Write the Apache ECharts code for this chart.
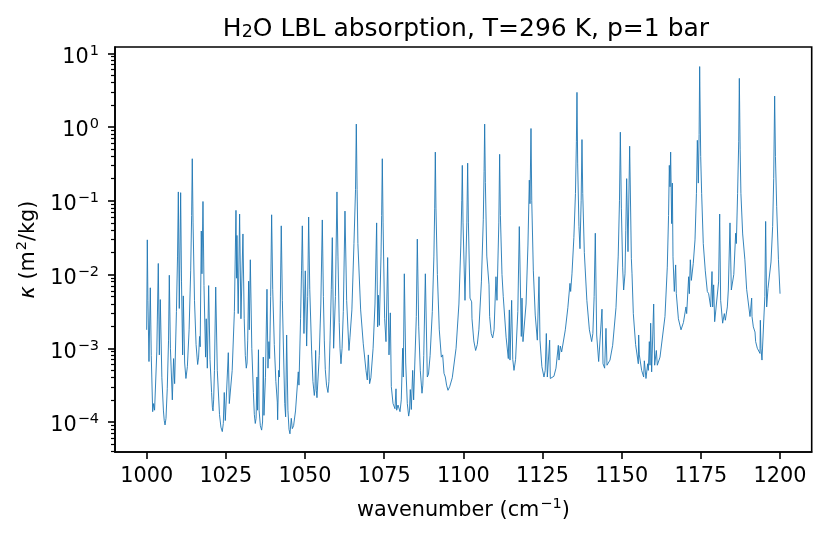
<!DOCTYPE html>
<html>
<head>
<meta charset="utf-8">
<title>H2O LBL absorption</title>
<script src="https://cdn.jsdelivr.net/npm/echarts@6/dist/echarts.min.js"></script>
<style>
html, body { margin: 0; padding: 0; background: #fff; }
#chart { width: 827px; height: 537px; }
</style>
</head>
<body>
<div id="chart"></div>
<script>
// wavenumber (cm-1) and log10 of kappa (m2/kg)
var wavenumber = [
    1000.0, 1000.2, 1000.4, 1000.73, 1001.15, 1001.45, 1001.9, 1002.2, 1002.5, 1003.2,
    1003.67, 1004.0, 1004.3, 1004.8, 1005.3, 1005.55, 1005.8, 1006.1, 1006.5, 1006.9,
    1007.15, 1007.5, 1008.1, 1008.5, 1008.83, 1009.4, 1009.75, 1010.0, 1010.3, 1010.73,
    1011.0, 1011.36, 1011.57, 1012.0, 1012.4, 1012.85, 1013.4, 1013.9, 1014.2, 1014.4,
    1014.65, 1015.1, 1015.6, 1016.1, 1016.4, 1016.7, 1016.9, 1017.25, 1017.46, 1017.78,
    1018.1, 1018.6, 1018.8, 1019.15, 1019.57, 1020.0, 1020.5, 1020.75, 1020.95, 1021.15,
    1021.4, 1021.8, 1022.3, 1023.0, 1023.45, 1023.88, 1024.2, 1024.5, 1024.83, 1025.78,
    1026.1, 1027.0, 1027.7, 1028.2, 1028.4, 1028.5, 1028.9, 1029.35, 1029.77, 1030.4,
    1030.8, 1031.15, 1031.46, 1031.7, 1031.9, 1032.2, 1032.4, 1032.73, 1033.2, 1033.7,
    1034.0, 1034.3, 1034.55, 1034.83, 1035.0, 1035.3, 1035.5, 1035.9, 1036.3, 1036.6,
    1036.83, 1037.04, 1037.5, 1037.99, 1038.3, 1038.6, 1038.83, 1039.15, 1039.46, 1039.8,
    1040.3, 1040.8, 1041.25, 1041.36, 1041.68, 1041.9, 1042.2, 1042.5, 1042.85, 1043.3,
    1043.6, 1043.88, 1044.2, 1044.6, 1044.95, 1045.25, 1045.67, 1045.99, 1046.4, 1047.0,
    1047.88, 1048.09, 1048.6, 1048.9, 1049.15, 1049.67, 1050.09, 1050.52, 1050.85, 1051.15,
    1051.5, 1052.1, 1052.5, 1052.94, 1053.15, 1053.36, 1053.57, 1053.78, 1054.5, 1055.0,
    1055.46, 1055.8, 1056.1, 1056.41, 1056.8, 1057.25, 1057.55, 1057.9, 1058.3, 1058.62,
    1059.04, 1059.6, 1060.09, 1060.4, 1060.8, 1061.05, 1061.36, 1061.7, 1062.1, 1062.62,
    1063.15, 1063.46, 1063.88, 1064.2, 1064.8, 1065.46, 1065.95, 1066.2, 1066.45, 1066.7,
    1067.57, 1068.4, 1069.25, 1069.67, 1069.99, 1070.4, 1070.8, 1071.5, 1072.1, 1072.62,
    1072.94, 1073.15, 1073.46, 1074.0, 1074.2, 1074.41, 1074.65, 1075.15, 1075.57, 1076.1,
    1076.52, 1076.94, 1077.25, 1077.8, 1078.41, 1078.73, 1078.94, 1079.36, 1080.0, 1080.4,
    1080.83, 1081.04, 1081.36, 1081.8, 1082.3, 1082.73, 1083.0, 1083.25, 1083.57, 1084.0,
    1084.3, 1085.15, 1085.46, 1085.9, 1086.4, 1086.94, 1087.2, 1087.5, 1088.0, 1088.62,
    1089.0, 1089.5, 1090.2, 1090.7, 1090.95, 1091.15, 1091.35, 1091.8, 1092.4, 1093.05,
    1093.47, 1093.89, 1094.3, 1094.7, 1095.15, 1095.7, 1096.5, 1097.7, 1098.6, 1099.2,
    1099.5, 1099.67, 1099.9, 1100.52, 1101.1, 1101.36, 1101.6, 1102.1, 1102.62, 1102.73,
    1103.3, 1103.88, 1104.4, 1104.9, 1105.7, 1106.3, 1106.55, 1106.73, 1106.95, 1107.4,
    1108.1, 1108.3, 1108.8, 1109.26, 1109.7, 1110.3, 1110.62, 1111.2, 1111.46, 1111.7,
    1112.2, 1112.6, 1113.5, 1114.2, 1114.52, 1114.73, 1115.25, 1115.6, 1115.99, 1116.5,
    1117.2, 1117.67, 1118.3, 1118.52, 1118.83, 1119.8, 1120.4, 1120.83, 1121.04, 1121.36,
    1121.6, 1122.1, 1122.7, 1123.36, 1123.89, 1124.2, 1124.8, 1125.46, 1125.85, 1126.2,
    1126.52, 1127.25, 1127.46, 1127.99, 1128.6, 1129.25, 1129.99, 1130.2, 1130.62, 1131.04,
    1132.2, 1133.0, 1133.67, 1133.88, 1134.3, 1134.9, 1135.4, 1135.7, 1135.88, 1136.1,
    1136.5, 1136.83, 1137.2, 1137.46, 1137.7, 1138.2, 1139.0, 1139.8, 1140.52, 1140.9,
    1141.3, 1141.67, 1142.1, 1142.73, 1143.78, 1144.1, 1144.62, 1145.04, 1145.36, 1146.3,
    1147.15, 1148.2, 1148.9, 1149.3, 1149.57, 1149.9, 1150.3, 1150.62, 1151.04, 1151.3,
    1151.57, 1151.99, 1152.52, 1153.05, 1153.26, 1153.67, 1154.4, 1155.25, 1155.36, 1155.57,
    1156.3, 1156.94, 1157.15, 1157.67, 1158.2, 1158.41, 1158.73, 1158.94, 1159.15, 1159.46,
    1160.1, 1160.41, 1160.94, 1161.25, 1162.1, 1163.67, 1164.4, 1164.8, 1165.04, 1165.25,
    1165.46, 1165.78, 1165.99, 1166.2, 1166.62, 1167.04, 1167.25, 1167.9, 1168.73, 1169.5,
    1170.3, 1170.52, 1171.15, 1171.36, 1171.67, 1171.99, 1172.6, 1173.15, 1173.6, 1173.89,
    1174.2, 1174.45, 1174.62, 1174.95, 1175.25, 1175.76, 1176.4, 1177.04, 1177.46, 1178.09,
    1178.52, 1178.73, 1179.04, 1179.36, 1179.78, 1180.6, 1180.94, 1181.25, 1181.88, 1182.41,
    1182.73, 1183.36, 1183.67, 1184.2, 1184.62, 1185.4, 1185.99, 1186.2, 1186.6, 1186.95,
    1187.15, 1187.4, 1187.65, 1188.2, 1188.9, 1189.46, 1190.52, 1191.04, 1191.15, 1191.57,
    1192.1, 1192.3, 1192.83, 1193.67, 1193.78, 1193.99, 1194.3, 1194.62, 1195.2, 1195.46,
    1195.78, 1196.2, 1196.62, 1197.15, 1197.67, 1198.0, 1198.3, 1198.55, 1198.94, 1199.5,
    1200.0
];

var log10Kappa = [
    -2.75, -1.53, -2.35, -3.18, -2.18, -3.1, -3.86, -3.75, -3.84, -3.05,
    -1.85, -3.09, -2.34, -3.4, -3.85, -3.98, -4.04, -3.95, -3.55, -2.9,
    -2.01, -3.0, -3.7, -3.14, -3.48, -2.5, -1.75, -0.88, -2.46, -0.89,
    -2.1, -3.09, -2.29, -3.2, -3.41, -3.25, -2.75, -1.95, -1.2, -0.43,
    -1.3, -2.35, -2.95, -3.22, -3.12, -2.84, -2.98, -1.41, -1.99, -1.01,
    -2.15, -3.12, -2.6, -3.27, -2.15, -3.15, -3.6, -3.8, -3.85, -3.7,
    -3.3, -2.17, -3.3, -3.9, -4.07, -4.13, -4.02, -3.6, -3.98, -3.06,
    -3.75, -3.3, -2.5, -1.13, -2.05, -1.47, -2.53, -1.18, -2.6, -1.45,
    -2.6, -3.1, -3.27, -3.2, -2.9, -2.09, -2.75, -1.8, -3.0, -3.6,
    -3.9, -4.02, -3.95, -3.39, -3.84, -3.02, -3.84, -4.05, -4.11, -4.0,
    -3.12, -3.91, -3.4, -2.2, -3.27, -2.91, -3.14, -2.3, -1.19, -2.2,
    -2.95, -3.45, -3.73, -3.97, -3.3, -3.39, -2.4, -1.34, -2.35, -3.2,
    -3.75, -3.93, -2.82, -3.84, -4.1, -4.16, -3.95, -4.09, -4.05, -3.85,
    -3.32, -3.5, -2.6, -1.95, -1.34, -2.8, -1.95, -2.97, -2.3, -1.22,
    -2.2, -3.05, -3.45, -3.64, -3.55, -3.03, -3.57, -3.67, -3.1, -2.4,
    -1.26, -2.3, -2.9, -3.29, -3.5, -3.6, -3.45, -2.9, -2.2, -1.5,
    -3.0, -2.3, -0.88, -1.75, -2.65, -3.0, -3.21, -3.0, -2.5, -1.14,
    -2.35, -2.37, -3.03, -2.85, -2.48, -1.58, -0.85, 0.04, -0.85, -1.58,
    -2.48, -2.94, -3.3, -3.43, -3.09, -3.48, -3.4, -3.0, -2.4, -1.3,
    -2.71, -2.28, -2.69, -1.75, -1.2, -0.43, -1.3, -2.6, -2.91, -1.77,
    -3.09, -2.52, -3.52, -3.75, -3.82, -3.55, -3.84, -3.77, -3.86, -3.7,
    -3.0, -3.39, -1.99, -3.2, -3.75, -3.92, -3.85, -3.56, -3.83, -3.3,
    -3.7, -2.57, -1.52, -2.7, -3.3, -3.61, -3.5, -3.1, -1.99, -3.39,
    -3.35, -3.1, -2.5, -1.75, -1.1, -0.34, -1.1, -2.0, -2.75, -3.12,
    -3.09, -3.34, -3.39, -3.5, -3.57, -3.52, -3.4, -3.0, -2.4, -1.6,
    -1.0, -0.52, -1.3, -2.35, -1.3, -0.49, -1.3, -2.32, -2.37, -2.6,
    -2.9, -3.03, -2.95, -2.75, -2.1, -1.25, -0.6, 0.04, -0.75, -1.75,
    -2.14, -2.57, -2.8, -2.86, -2.75, -2.03, -2.35, -1.3, -0.37, -1.2,
    -2.0, -2.3, -2.85, -3.14, -2.48, -3.16, -2.35, -3.15, -3.3, -3.15,
    -2.5, -1.35, -2.84, -2.32, -2.91, -2.4, -1.6, -0.72, -1.04, -0.02,
    -1.0, -1.95, -2.55, -2.89, -2.03, -2.89, -3.25, -3.39, -3.3, -2.8,
    -3.39, -2.89, -3.41, -3.41, -3.38, -3.27, -2.96, -3.16, -2.97, -3.05,
    -2.75, -2.45, -2.12, -2.23, -1.99, -1.5, -0.9, -0.2, 0.47, -0.5,
    -1.35, -1.65, -1.0, -0.17, -0.9, -1.7, -2.35, -2.75, -2.91, -2.8,
    -2.3, -1.44, -2.82, -3.18, -2.47, -3.21, -3.27, -2.73, -3.23, -3.16,
    -2.96, -2.45, -1.75, -1.0, -0.07, -1.1, -1.9, -2.21, -1.99, -1.4,
    -0.7, -1.69, -0.26, -1.78, -1.99, -2.53, -2.95, -3.21, -2.82, -3.09,
    -3.3, -3.39, -3.17, -3.41, -3.21, -3.3, -2.91, -3.23, -2.66, -3.32,
    -2.4, -3.23, -3.03, -3.23, -3.12, -2.57, -1.9, -1.2, -0.52, -0.81,
    -0.34, -1.31, -0.76, -1.76, -2.23, -1.87, -2.26, -2.6, -2.75, -2.65,
    -2.44, -2.53, -2.03, -2.26, -1.8, -2.08, -1.85, -1.53, -0.9, -0.18,
    -0.76, -0.1, 0.82, -0.4, -0.9, -1.58, -1.95, -2.23, -2.26, -2.44,
    -1.96, -2.44, -2.14, -2.64, -2.64, -2.1, -1.18, -2.35, -2.66, -2.53,
    -2.62, -2.44, -2.21, -1.3, -2.21, -2.0, -1.44, -1.58, -0.9, -0.2,
    0.66, -0.3, -0.9, -1.45, -1.8, -2.2, -2.57, -2.32, -2.57, -2.71,
    -2.78, -2.91, -3.0, -3.07, -2.62, -3.0, -3.16, -3.15, -2.3, -1.28,
    -2.44, -2.19, -2.19, -1.83, -1.35, -0.7, 0.42, -0.4, -1.08, -1.8,
    -2.26
];

var xTicks = [1000, 1025, 1050, 1075, 1100, 1125, 1150, 1175, 1200];
var yMajorTicks = [1e-4, 1e-3, 1e-2, 1e-1, 1, 10];
var yMinorTicks = [
    4e-5, 5e-5, 6e-5, 7e-5, 8e-5, 9e-5,
    2e-4, 3e-4, 4e-4, 5e-4, 6e-4, 7e-4, 8e-4, 9e-4,
    2e-3, 3e-3, 4e-3, 5e-3, 6e-3, 7e-3, 8e-3, 9e-3,
    2e-2, 3e-2, 4e-2, 5e-2, 6e-2, 7e-2, 8e-2, 9e-2,
    0.2, 0.3, 0.4, 0.5, 0.6, 0.7, 0.8, 0.9,
    2, 3, 4, 5, 6, 7, 8, 9
];

var FONT = 'DejaVu Sans';
var FS = 20.8;

function spectrumData() {
    var data = [];
    for (var i = 0; i < wavenumber.length; i++) {
        data.push([wavenumber[i], Math.pow(10, log10Kappa[i])]);
    }
    return data;
}

function powerLabel(v) {
    var e = Math.round(Math.log10(v));
    return '{b|10}{e|' + (e < 0 ? '\u2212' + (-e) : e) + '}';
}

var supRich = {
    b: { fontFamily: FONT, fontSize: FS, lineHeight: 20, color: '#000', padding: [8, 0, 0, 0] },
    e: { fontFamily: FONT, fontSize: 14.5, lineHeight: 14, color: '#000', verticalAlign: 'top', padding: [0, 0, 0, 1] }
};

var chart = echarts.init(document.getElementById('chart'));
var option = {
    animation: false,
    backgroundColor: '#fff',
    title: {
        text: '{a|H}{s|2}{a|O LBL absorption, T=296 K, p=1 bar}',
        left: 466,
        top: 17,
        padding: 0,
        textAlign: 'center',
        textStyle: {
            fontWeight: 'normal',
            rich: {
                a: { fontFamily: FONT, fontSize: 25, fontWeight: 'normal', lineHeight: 24, color: '#000', verticalAlign: 'top', padding: [0, 0, 2, 0] },
                s: { fontFamily: FONT, fontSize: 17.5, fontWeight: 'normal', lineHeight: 17, color: '#000', verticalAlign: 'bottom' }
            }
        }
    },
    grid: {
        left: 115,
        right: 15.3,
        top: 47,
        bottom: 85,
        show: true,
        borderColor: '#000',
        borderWidth: 1.6,
        backgroundColor: 'transparent'
    },
    xAxis: {
        type: 'value',
        min: 990,
        max: 1210,
        name: '{n|wavenumber (cm}{e|\u22121}{n|)}',
        nameLocation: 'middle',
        nameGap: 44,
        nameTextStyle: {
            rich: {
                n: { fontFamily: FONT, fontSize: FS, lineHeight: 20, color: '#000', padding: [8, 0, 0, 0] },
                e: supRich.e
            }
        },
        axisLine: { lineStyle: { color: '#000', width: 1.6 } },
        axisTick: { customValues: xTicks, length: 7, lineStyle: { color: '#000', width: 1.6 } },
        axisLabel: {
            customValues: xTicks,
            margin: 14,
            fontFamily: FONT,
            fontSize: FS,
            color: '#000',
            formatter: function (v) { return String(v); }
        },
        splitLine: { show: false }
    },
    yAxis: [{
        type: 'log',
        logBase: 10,
        min: 3.92e-5,
        max: 12.17,
        name: '{i|\u03ba}{n| (m}{e|2}{n|/kg)}',
        nameLocation: 'middle',
        nameGap: 62,
        nameTextStyle: {
            rich: {
                i: { fontFamily: FONT, fontStyle: 'italic', fontSize: FS, lineHeight: 20, color: '#000', padding: [8, 0, 0, 0] },
                n: { fontFamily: FONT, fontSize: FS, lineHeight: 20, color: '#000', padding: [8, 0, 0, 0] },
                e: supRich.e
            }
        },
        axisLine: { lineStyle: { color: '#000', width: 1.6 } },
        axisTick: { customValues: yMajorTicks, length: 7, lineStyle: { color: '#000', width: 1.6 } },
        axisLabel: { customValues: yMajorTicks, margin: 16, formatter: powerLabel, rich: supRich },
        splitLine: { show: false },
        minorTick: { show: false }
    }, {
        type: 'log',
        logBase: 10,
        min: 3.92e-5,
        max: 12.17,
        position: 'left',
        offset: 0,
        axisLine: { show: false },
        axisTick: { customValues: yMinorTicks, length: 4, lineStyle: { color: '#000', width: 1.2 } },
        axisLabel: { show: false },
        splitLine: { show: false }
    }],
    series: [{
        type: 'line',
        yAxisIndex: 0,
        data: spectrumData(),
        showSymbol: false,
        symbol: 'none',
        lineStyle: { color: '#1f77b4', width: 0.9 },
        z: 3
    }]
};
chart.setOption(option);
</script>
</body>
</html>
